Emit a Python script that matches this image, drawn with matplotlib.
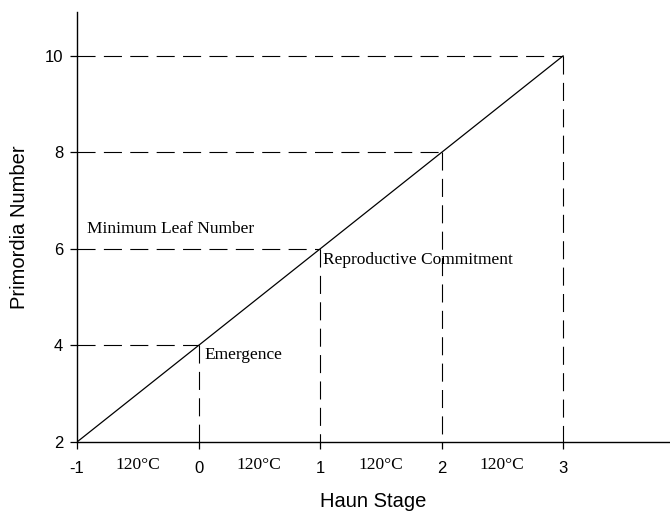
import matplotlib
matplotlib.use("Agg")
import matplotlib.pyplot as plt

haun_stage = [-1, 0, 1, 2, 3]
primordia = [2, 4, 6, 8, 10]
marked_stages = [0, 1, 2, 3]
marked_primordia = [4, 6, 8, 10]
x_ticks = [-1, 0, 1, 2, 3]
y_ticks = [2, 4, 6, 8, 10]
interval_positions = [-0.5, 0.5, 1.5, 2.5]
interval_labels = ["120°C", "120°C", "120°C", "120°C"]
annotations = [
    ("Minimum Leaf Number", -0.92, 6.41),
    ("Reproductive Commitment", 1.025, 5.77),
    ("Emergence", 0.045, 3.80),
]

plt.rcParams['font.family'] = ['Liberation Sans', 'DejaVu Sans']
plt.rcParams['lines.scale_dashes'] = False
plt.rcParams['axes.unicode_minus'] = False

fig = plt.figure(figsize=(6.7, 5.13), dpi=100)
ax = fig.add_axes([0.1149, 0.1384, 0.8851, 0.8382])

ax.plot(haun_stage, primordia, color='black', lw=0.9)
for xs, ys in zip(marked_stages, marked_primordia):
    ax.plot([haun_stage[0], xs], [ys, ys], color='black', lw=0.8, dashes=(13, 6))
    ax.plot([xs, xs], [ys, primordia[0]], color='black', lw=0.8, dashes=(13, 6))

ax.set_xlim(-1, 3.88)
ax.set_ylim(2, 10.91)
ax.spines['top'].set_visible(False)
ax.spines['right'].set_visible(False)
ax.spines['left'].set_linewidth(1.0)
ax.spines['bottom'].set_linewidth(1.0)
ax.set_xticks(x_ticks)
ax.set_yticks(y_ticks)
ax.tick_params(axis='both', labelsize=12, length=5, width=0.9, direction='out')
ax.tick_params(axis='x', pad=8.5)
ax.tick_params(axis='y', pad=5)

for xp, lab in zip(interval_positions, interval_labels):
    ax.text(xp, -0.0535, lab, transform=ax.get_xaxis_transform(), ha='center', va='center',
            fontsize=12.5, family='Liberation Serif')

for txt, xp, yp in annotations:
    ax.text(xp, yp, txt, ha='left', va='center', fontsize=12.5, family='Liberation Serif')

ax.set_xlabel("Haun Stage", fontsize=14.5)
ax.set_ylabel("Primordia Number", fontsize=14.5)
ax.xaxis.set_label_coords(0.5, -0.117)
ax.yaxis.set_label_coords(-0.081, 0.5)

fig.savefig("out.png", dpi=100)
